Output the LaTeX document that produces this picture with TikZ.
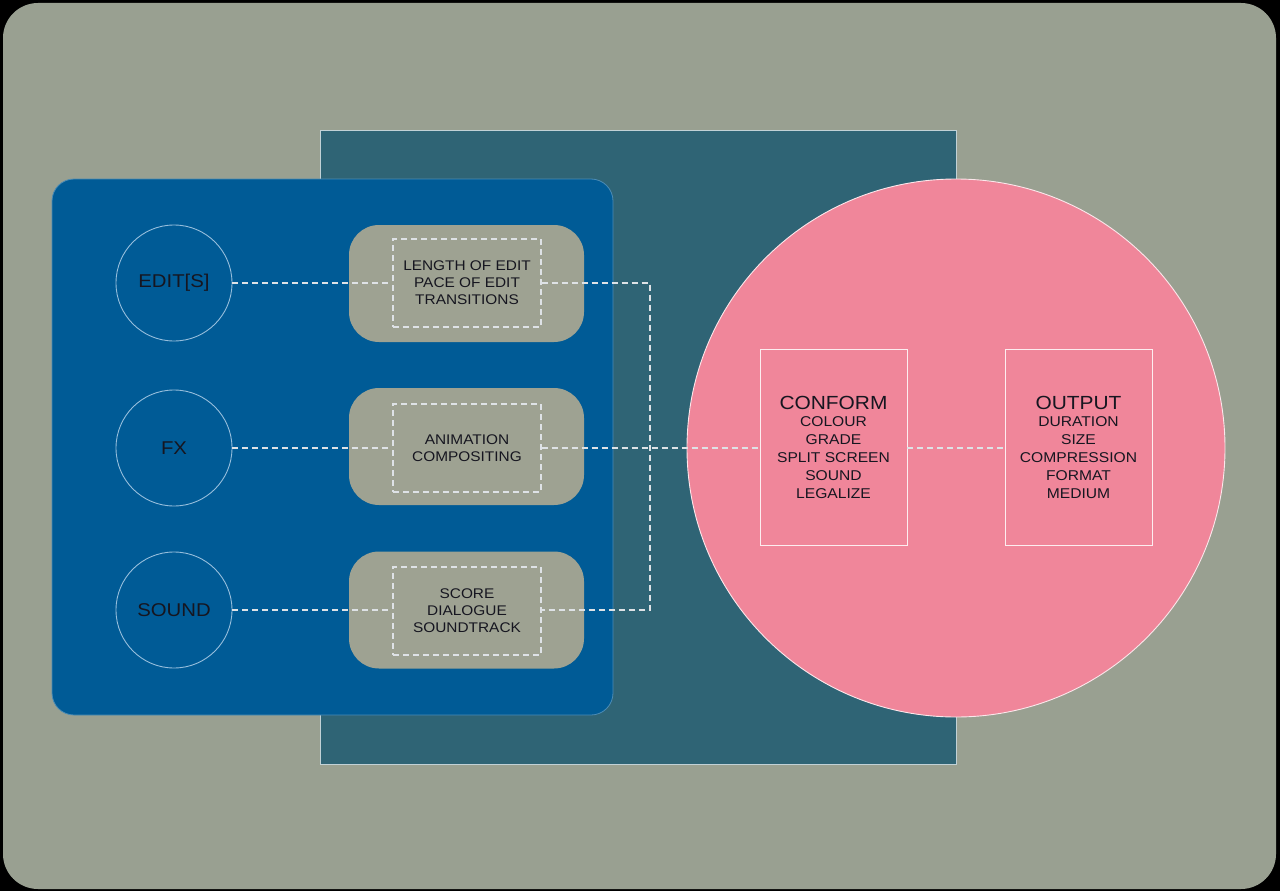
\documentclass[tikz,border=0pt]{standalone}
\usepackage{fontspec}
\setmainfont{Liberation Sans}[FakeStretch=1.1]
\begin{document}
\begin{tikzpicture}[x=1pt,y=-1pt,
  ring/.style={circle,draw=ringc,line width=0.9pt,minimum size=116pt,inner sep=0pt,text=txt,font=\fontsize{18.5}{20}\selectfont},
  pill/.style={rounded corners=30pt,fill=pillgrey,minimum width=235pt,minimum height=117pt,inner sep=0pt},
  dbox/.style={draw=dashc,dashed,dash pattern=on 6pt off 4pt,line width=1.2pt,minimum width=148pt,minimum height=88pt,inner sep=0pt,align=center,text=txt,font=\fontsize{14}{17}\selectfont},
  conn/.style={draw=dashc,dash pattern=on 6pt off 4pt,line width=1.2pt},
  wbox/.style={draw=white!85!pinkc,line width=0.9pt,minimum width=147pt,minimum height=196pt,inner sep=0pt,align=center,text=txt,font=\fontsize{14.2}{17.8}\selectfont}
]
\definecolor{bggrey}{RGB}{153,160,145}
\definecolor{pillgrey}{RGB}{158,162,146}
\definecolor{bluec}{RGB}{0,91,150}
\definecolor{tealc}{RGB}{47,100,117}
\definecolor{pinkc}{RGB}{240,134,154}
\definecolor{ringc}{RGB}{150,190,220}
\definecolor{dashc}{RGB}{222,226,230}
\definecolor{txt}{RGB}{22,22,32}
\useasboundingbox (0,0) rectangle (1280,891);
\fill[black] (0,0) rectangle (1280,891);
\fill[bggrey,rounded corners=35pt] (3,3) rectangle (1276,889);
% teal square
\filldraw[fill=tealc,draw=white!70!tealc,line width=0.9pt] (320,130) rectangle (956,764);
% blue panel
\filldraw[fill=bluec,draw=white!30!bluec,line width=0.8pt,rounded corners=22pt] (52,179) rectangle (613,715);
% pink circle
\filldraw[fill=pinkc,draw=white!80!pinkc,line width=0.9pt] (956,448) circle (269);
% circles
\node[ring] (edit) at (174,283) {EDIT[S]};
\node[ring] (fx) at (174,448) {FX};
\node[ring] (sound) at (174,610) {SOUND};
% pills
\node[pill] (editpill) at (466.5,283.5) {};
\node[pill] (fxpill) at (466.5,446.5) {};
\node[pill] (soundpill) at (466.5,610) {};
\node[dbox] (editbox) at (467,283) {LENGTH OF EDIT\\PACE OF EDIT\\TRANSITIONS};
\node[dbox] (fxbox) at (467,448) {ANIMATION\\COMPOSITING};
\node[dbox] (soundbox) at (467,611) {SCORE\\DIALOGUE\\SOUNDTRACK};
% conform / output
\node[wbox] (conform) at (833.5,447) {{\fontsize{19}{22}\selectfont CONFORM}\\[0pt]COLOUR\\GRADE\\SPLIT SCREEN\\SOUND\\LEGALIZE};
\node[wbox] (output) at (1078.5,447) {{\fontsize{19}{22}\selectfont OUTPUT}\\[0pt]DURATION\\SIZE\\COMPRESSION\\FORMAT\\MEDIUM};
% connectors
\coordinate (join) at (650,283);
\draw[conn] (edit.east) -- (editbox.west);
\draw[conn] (fx.east) -- (fxbox.west);
\draw[conn] (sound.east) -- (soundbox.west |- sound.east);
\draw[conn] (editbox.east) -- (join) |- (soundbox.east |- sound.east);
\draw[conn] (fxbox.east) -- (conform.west |- fxbox.east);
\draw[conn] (conform.east |- fxbox.east) -- (output.west |- fxbox.east);
\end{tikzpicture}
\end{document}
